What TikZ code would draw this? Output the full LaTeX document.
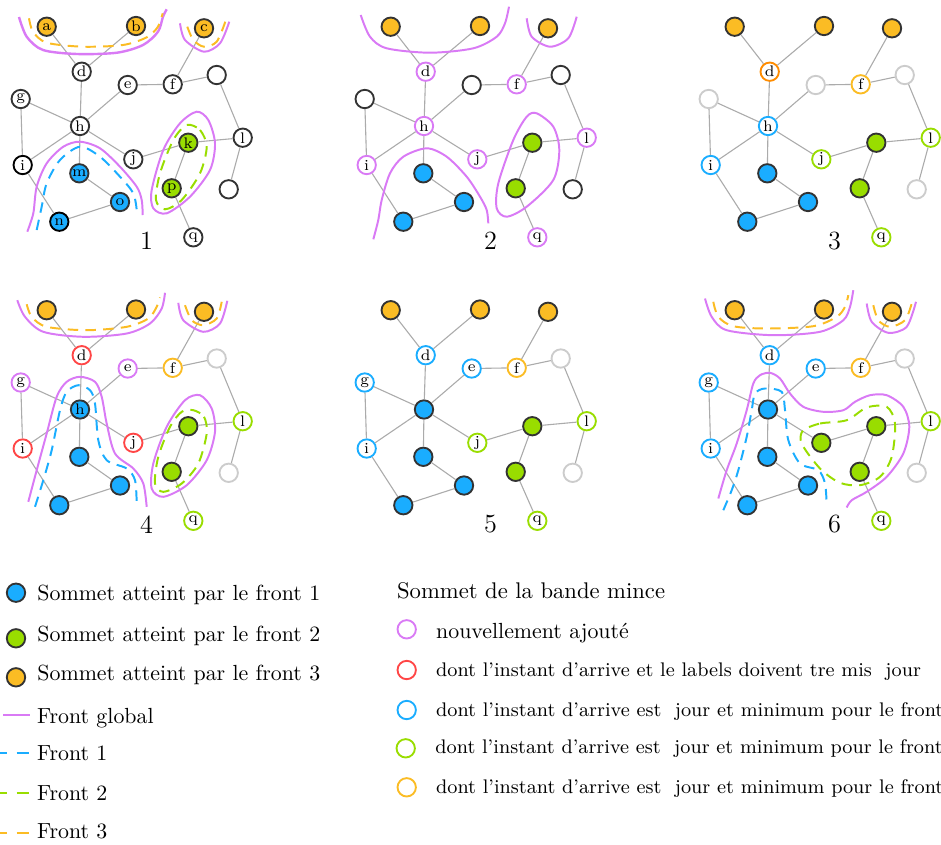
\documentclass[tikz,border=0pt]{standalone}
\definecolor{cOr}{HTML}{FBBC24}
\definecolor{cDOr}{HTML}{FF8C00}
\definecolor{cBlue}{HTML}{1AADFF}
\definecolor{cGreen}{HTML}{99DD00}
\definecolor{cPurp}{HTML}{D97AF5}
\definecolor{cRed}{HTML}{FF4646}
\definecolor{cGray}{HTML}{CCCCCC}
\definecolor{cDark}{HTML}{333333}
\definecolor{cEdge}{HTML}{ABABAB}
\tikzset{
 vtx/.style={circle, minimum size=8.4pt, inner sep=0pt, line width=0.85pt, font=\scriptsize, fill=white},
 nW/.style={draw=cDark}, nK/.style={draw=black}, nKB/.style={draw=black,fill=cBlue},
 nO/.style={draw=cDark,fill=cOr}, nB/.style={draw=cDark,fill=cBlue}, nG/.style={draw=cDark,fill=cGreen},
 nP/.style={draw=cPurp}, nR/.style={draw=cRed}, nBl/.style={draw=cBlue}, nGr/.style={draw=cGreen},
 nOr/.style={draw=cOr}, nDO/.style={draw=cDOr}, nL/.style={draw=cGray},
 gedge/.style={draw=cEdge, line width=0.5pt},
 glob/.style={draw=cPurp, line width=0.9pt},
 frd/.style={line width=0.9pt, dash pattern=on 4.8pt off 3.3pt},
 fra/.style={frd, draw=cBlue}, frb/.style={frd, draw=cGreen}, frc/.style={frd, draw=cOr},
 legdash/.style={line width=0.9pt, dash pattern=on 3.3pt off 4.3pt on 5.6pt off 10pt},
 num/.style={font=\large, inner sep=0pt},
 legtxt/.style={anchor=base west, inner sep=0pt},
 smalltxt/.style={legtxt, font=\fontsize{9}{11}\selectfont},
}
\newcommand\panel[4]{%
  \foreach \nm/\st/\lb in {#4} {\node[vtx,\st] (#1\nm) at ([shift={(#2,#3)}]P\nm) {\lb};}
  \foreach \u/\v in {a/d,b/d,c/f,d/h,e/f,e/h,f/r,r/l,g/h,g/i,h/i,h/j,h/m,j/k,k/l,k/p,l/s,m/o,o/n,i/n,p/q}
    {\draw[gedge] (#1\u) -- (#1\v);}
  \node[num] (#1num) at ([shift={(#2,#3)}]146.5,241) {#1};
}
\begin{document}
\begin{tikzpicture}[x=0.457pt,y=-0.457pt]
\useasboundingbox (0,0) rectangle (941,844);
\foreach \nm/\x/\y in {a/46.7/26.7, b/136/26, c/204/28.3, d/81.7/71.7, e/127.7/85, f/172.7/84.3,
  r/216.7/75, g/20.7/99, h/80/126, i/22.7/165, j/133.3/159.3, k/188.3/142.7, l/242.7/137.7,
  m/79.3/173.3, o/120/202, n/59.3/221.7, p/171.7/188.3, s/228.7/189.3, q/193.3/237.3}
  {\coordinate (P\nm) at (\x,\y);}

% ---------- panel 1
\panel{1}{0}{0}{a/nO/a,b/nO/b,c/nO/c,d/nW/d,e/nW/e,f/nW/f,r/nW/{},g/nW/g,h/nW/h,i/nK/i,j/nW/j,
  k/nG/k,l/nW/l,m/nB/m,o/nB/o,n/nKB/n,p/nG/p,s/nW/{},q/nW/q}
\begin{scope}
\draw[glob, line width=1.1pt] plot[smooth] coordinates {(19,17) (26.7,36.7) (43,50) (77,54) (117,52.7) (143,45) (158,31.7) (163,16.7) (166.7,9.3)};
\draw[frc] plot[smooth] coordinates {(29,18.3) (33,31.7) (46.7,42.7) (83,46.7) (123,45) (146.7,37.3) (158,26.7) (162.7,13.3)};
\draw[glob] plot[smooth] coordinates {(180,23.3) (185,40) (204,51.7) (220,43.3) (229.3,21.7)};
\draw[frc] plot[smooth] coordinates {(187.3,26.7) (193.3,40) (204,46.7) (216.7,41.7) (225.3,21.7)};
\draw[glob] plot[smooth] coordinates {(27.3,231.7) (33.3,213.3) (36.7,186.7) (46.7,163.3) (63.3,146.7) (80,141.7) (100,148.3) (120,166.7) (136.7,186.7) (141.7,200) (142.7,215)};
\draw[fra] plot[smooth] coordinates {(36.7,230) (41.7,206.7) (46.7,183.3) (60,160) (80,146.7) (100,156.7) (120,176.7) (133.3,193.3) (136.7,210)};
\draw[glob] plot[smooth cycle] coordinates {(196.7,111.7) (208.3,120) (215,143.3) (210,170) (190,196.7) (166.7,213.3) (153.3,208.3) (151.7,190) (163.3,150) (180,123.3)};
\draw[frb] plot[smooth cycle] coordinates {(186.7,125) (200,130) (206.7,146.7) (200,173.3) (181.7,200) (165,209.3) (156,200) (160,173.3) (173.3,140)};
\end{scope}

% ---------- panel 2
\panel{2}{344}{0}{a/nO/{},b/nO/{},c/nO/{},d/nP/d,e/nW/{},f/nP/f,r/nW/{},g/nW/{},h/nP/h,i/nP/i,j/nP/j,
  k/nG/{},l/nP/l,m/nB/{},o/nB/{},n/nB/{},p/nG/{},s/nW/{},q/nP/q}
\begin{scope}[shift={(344,0)}]
\draw[glob] plot[smooth] coordinates {(16.7,15) (26,36.7) (42.7,48.3) (86,52.7) (129.3,48.3) (152.7,36.7) (161,23.3) (165,6.7)};
\draw[glob] plot[smooth] coordinates {(182.7,18.3) (187.7,36.7) (206,46.7) (224.3,38.3) (232.7,16.7)};
\draw[glob] plot[smooth] coordinates {(29.3,239.3) (34.3,220) (37.7,200) (46,173.3) (59.3,156.7) (82.7,148.3) (102.7,156.7) (122.7,176.7) (136,196.7) (142.7,210) (144.3,223.3)};
\draw[glob] plot[smooth cycle] coordinates {(192.7,113.3) (209.3,126.7) (215.3,150) (209.3,180) (182.7,206.7) (162.7,216.7) (152.7,208.3) (154.3,183.3) (169.3,140) (182.7,116.7)};
\end{scope}

% ---------- panel 3
\panel{3}{688}{0}{a/nO/{},b/nO/{},c/nO/{},d/nDO/d,e/nL/{},f/nOr/f,r/nL/{},g/nL/{},h/nBl/h,i/nBl/i,j/nGr/j,
  k/nG/{},l/nGr/l,m/nB/{},o/nB/{},n/nB/{},p/nG/{},s/nL/{},q/nGr/q}

% ---------- panel 4
\panel{4}{0}{283.5}{a/nO/{},b/nO/{},c/nO/{},d/nR/d,e/nP/e,f/nOr/f,r/nL/{},g/nP/g,h/nB/h,i/nR/i,j/nR/j,
  k/nG/{},l/nGr/l,m/nB/{},o/nB/{},n/nB/{},p/nG/{},s/nL/{},q/nGr/q}
\begin{scope}[shift={(0,283.5)}]
\draw[glob] plot[smooth] coordinates {(17.3,16.7) (25,33.3) (43.3,48.3) (83.3,53.3) (126.7,50) (150,40) (161.7,25) (165,9.3)};
\draw[frc] plot[smooth] coordinates {(26.7,20.7) (31.7,33.3) (46.7,43.3) (86.7,46.7) (126.7,43.3) (148.3,35) (156.7,23.3) (160,14)};
\draw[glob] plot[smooth] coordinates {(178.3,19.3) (183.3,36.7) (203.3,48.3) (220,40) (227.3,17.3)};
\draw[frc] plot[smooth] coordinates {(185,21.7) (191.7,36.7) (203.3,41.7) (216.7,35) (221.7,18.3)};
\draw[glob] plot[smooth] coordinates {(28.3,218.3) (36.7,186.7) (46.7,150) (56.7,113.3) (66.7,98.3) (80,93.3) (95,98.3) (101.7,113.3) (106.7,140) (115,170) (133.3,185) (143.3,200) (146.7,223.3)};
\draw[fra] plot[smooth] coordinates {(35,223.3) (43.3,196.7) (51.7,166.7) (60,126.7) (66.7,108.3) (78.3,101.7) (90,106.7) (95,120) (98.3,156.7) (106.7,176.7) (126.7,185) (135,196.7) (136.7,220)};
\draw[glob] plot[smooth cycle] coordinates {(200,111.7) (211.7,125) (215,148.3) (206.7,176.7) (186.7,201.7) (163.3,213.3) (151.7,205) (153.3,180) (166.7,143.3) (185,116.7)};
\draw[frb] plot[smooth cycle] coordinates {(193.3,126.7) (204,133.3) (206.7,150) (198.3,180) (181.7,200) (163.3,208.3) (155,200) (158.3,173.3) (170,143.3) (181.7,128.3)};
\end{scope}

% ---------- panel 5
\panel{5}{344}{283.5}{a/nO/{},b/nO/{},c/nO/{},d/nBl/d,e/nBl/e,f/nOr/f,r/nL/{},g/nBl/g,h/nB/{},i/nBl/i,j/nGr/j,
  k/nG/{},l/nGr/l,m/nB/{},o/nB/{},n/nB/{},p/nG/{},s/nL/{},q/nGr/q}

% ---------- panel 6
\panel{6}{688}{283.5}{a/nO/{},b/nO/{},c/nO/{},d/nBl/d,e/nBl/e,f/nOr/f,r/nL/{},g/nBl/g,h/nB/{},i/nBl/i,j/nG/{},
  k/nG/{},l/nGr/l,m/nB/{},o/nB/{},n/nB/{},p/nG/{},s/nL/{},q/nGr/q}
\begin{scope}[shift={(688,283.5)}]
\draw[glob] plot[smooth] coordinates {(17,15) (23.7,33.3) (38.7,46.7) (85.3,51.7) (132,48.3) (155.3,36.7) (162,23.3) (165.3,6.7)};
\draw[frc] plot[smooth] coordinates {(25.3,18.3) (30.3,33.3) (45.3,42.7) (78.7,45) (125.3,42.7) (148.7,33.3) (157,23.3) (160.3,11.7)};
\draw[glob] plot[smooth] coordinates {(178.7,20) (183.7,38.3) (200.3,49.3) (218.7,43.3) (228,18.3)};
\draw[frc] plot[smooth] coordinates {(185.3,21.7) (190.3,36.7) (202,43.3) (217,36.7) (223.7,20)};
\draw[glob] plot[smooth] coordinates {(30.3,215) (38.7,186.7) (48.7,160) (58.7,126.7) (65.3,100) (72,91.7) (82,89.3) (92,95) (102,110) (115.3,123.3) (135.3,128.3) (155.3,126.7) (167,118.3) (182,111.7) (198.7,111.7) (215.3,123.3) (221.3,143.3) (215.3,170) (198.7,193.3) (178.7,208.3) (163.7,216.7) (158.7,224)};
\draw[fra] plot[smooth] coordinates {(35.3,226.7) (43.7,206.7) (50.3,186.7) (58.7,153.3) (63.7,126.7) (67,110) (77,105) (93.7,108.3) (97,126.7) (100.3,156.7) (112,180) (130.3,186.7) (137,200) (138.7,221.7)};
\draw[frb] plot[smooth cycle] coordinates {(115.3,146.7) (132,140) (158.7,136.7) (178.7,124) (198.7,123.3) (207,140) (203.7,173.3) (192,193.3) (172,201.7) (152,199.3) (133.7,186.7) (118.7,168.3) (112.7,156.7)};
\end{scope}

% ---------- legend left
\node[vtx,nB] (L1) at (16,592.7) {};
\node[legtxt] (T1) at (37,600.7) {Sommet atteint par le front 1};
\node[vtx,nG] (L2) at (16,638.3) {};
\node[legtxt] (T2) at (37,641.7) {Sommet atteint par le front 2};
\node[vtx,nO] (L3) at (16,677.3) {};
\node[legtxt] (T3) at (37,680.7) {Sommet atteint par le front 3};
\coordinate (G0) at (3.3,715); \coordinate (G1) at (30,715);
\draw[glob] (G0) -- (G1);
\node[legtxt] (T4) at (36.7,723.3) {Front global};
\coordinate (B0) at (0,752.7); \coordinate (B1) at (29,752.7);
\draw[legdash, draw=cBlue] (B0) -- (B1);
\node[legtxt] (T5) at (36.7,760) {Front 1};
\coordinate (V0) at (0,792.7); \coordinate (V1) at (29,792.7);
\draw[legdash, draw=cGreen] (V0) -- (V1);
\node[legtxt] (T6) at (36.7,800) {Front 2};
\coordinate (O0) at (0,833.3); \coordinate (O1) at (29,833.3);
\draw[legdash, draw=cOr] (O0) -- (O1);
\node[legtxt] (T7) at (36.7,838.3) {Front 3};

% ---------- legend right
\node[legtxt, font=\fontsize{10.35}{12}\selectfont] (R0) at (396.7,598.3) {Sommet de la bande mince};
\node[vtx,nP] (C1) at (406.7,629.3) {};
\node[legtxt] (R1) at (435.7,638.3) {nouvellement ajouté};
\node[vtx,nR] (C2) at (406.7,670) {};
\node[smalltxt] (R2) at (435.7,676.7) {dont l'instant d'arrive et le labels doivent tre mis\ \ jour};
\node[vtx,nBl] (C3) at (406.7,710) {};
\node[smalltxt] (R3) at (435.7,716.7) {dont l'instant d'arrive est\ \ jour et minimum pour le front};
\node[vtx,nGr] (C4) at (405.7,748.3) {};
\node[smalltxt] (R4) at (435,753.3) {dont l'instant d'arrive est\ \ jour et minimum pour le front};
\node[vtx,nOr] (C5) at (406.7,787.3) {};
\node[smalltxt] (R5) at (435.7,793.3) {dont l'instant d'arrive est\ \ jour et minimum pour le front};
\end{tikzpicture}
\end{document}
